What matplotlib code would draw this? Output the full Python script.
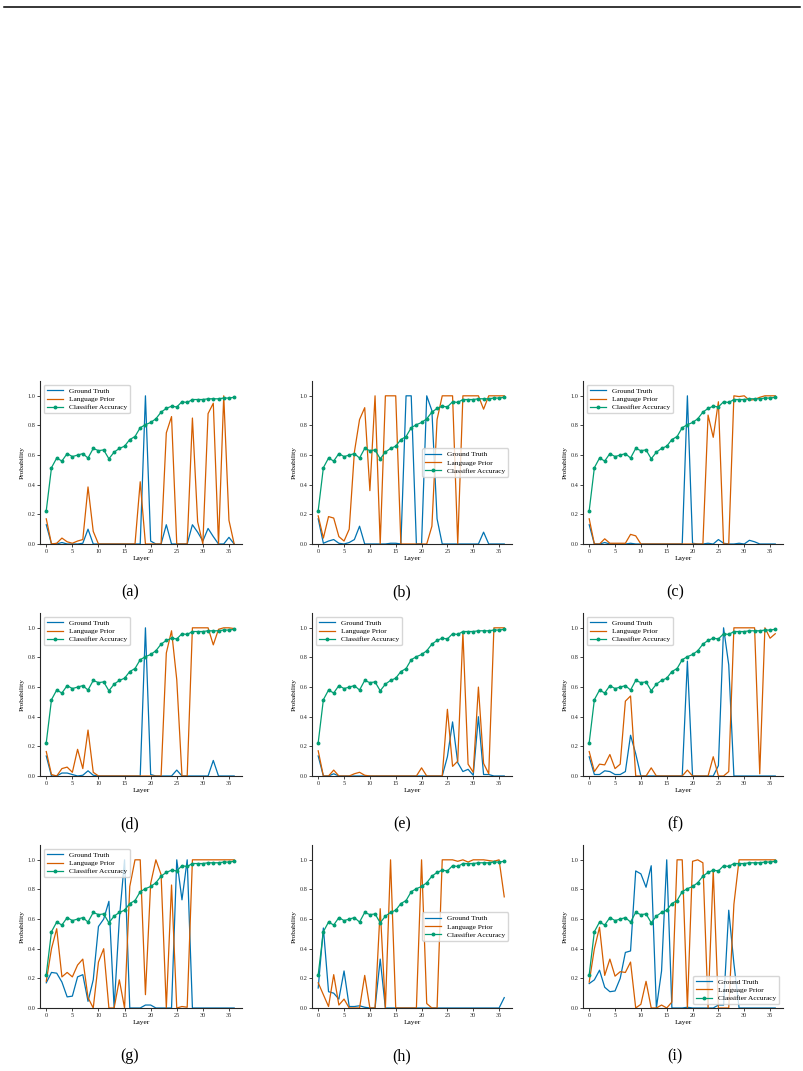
import matplotlib
matplotlib.use("Agg")
import matplotlib.pyplot as plt
from matplotlib.lines import Line2D

# ---- data ----
layers = list(range(37))

classifier_acc = [0.225, 0.515, 0.58, 0.56, 0.61, 0.59, 0.60, 0.61, 0.58, 0.645,
                  0.63, 0.635, 0.575, 0.62, 0.645, 0.66, 0.705, 0.725, 0.785, 0.805,
                  0.82, 0.845, 0.89, 0.915, 0.93, 0.925, 0.96, 0.955, 0.975, 0.975,
                  0.975, 0.98, 0.98, 0.98, 0.985, 0.985, 0.99]

gt_a = [0.13, 0.0, 0.0, 0.01, 0.0, 0.0, 0.0, 0.005, 0.1, 0.0,
        0, 0, 0, 0, 0, 0, 0, 0, 0.0, 1.0,
        0.02, 0.0, 0.0, 0.13, 0.0, 0, 0, 0, 0.13, 0.08,
        0.02, 0.105, 0.05, 0.0, 0.0, 0.045, 0.0]
lp_a = [0.17, 0.0, 0.005, 0.04, 0.015, 0.005, 0.02, 0.03, 0.385, 0.085,
        0, 0, 0, 0, 0, 0, 0, 0, 0.42, 0.0,
        0, 0, 0, 0.75, 0.86, 0, 0, 0, 0.85, 0.15,
        0.0, 0.88, 0.95, 0.0, 1.0, 0.16, 0.0]

gt_b = [0.17, 0.005, 0.02, 0.03, 0.005, 0.0, 0.01, 0.03, 0.12, 0.0,
        0, 0, 0, 0, 0.005, 0.005, 0, 1.0, 1.0, 0.0,
        0.0, 1.0, 0.9, 0.17, 0.0, 0, 0, 0, 0, 0,
        0, 0, 0.08, 0, 0, 0, 0]
lp_b = [0.19, 0.04, 0.185, 0.175, 0.05, 0.02, 0.1, 0.62, 0.84, 0.92,
        0.36, 1.0, 0.0, 1.0, 1.0, 1.0, 0.0, 0, 0, 0,
        0, 0, 0.12, 0.84, 1.0, 1.0, 1.0, 0.0, 1.0, 1.0,
        1.0, 1.0, 0.91, 1.0, 1.0, 1.0, 1.0]

gt_c = [0.13, 0, 0, 0.01, 0, 0, 0, 0, 0.005, 0,
        0, 0, 0, 0, 0, 0, 0, 0, 0, 1.0,
        0.005, 0, 0, 0.005, 0, 0.03, 0.005, 0, 0, 0.005,
        0, 0.025, 0.015, 0, 0, 0, 0]
lp_c = [0.17, 0.0, 0.0, 0.035, 0.005, 0.005, 0.005, 0.005, 0.065, 0.055,
        0, 0, 0, 0, 0, 0, 0, 0, 0, 0,
        0, 0, 0, 0.87, 0.72, 0.96, 0.0, 0.0, 1.0, 0.995,
        1.0, 0.97, 0.975, 0.99, 1.0, 1.0, 1.0]

gt_d = [0.135, 0, 0, 0.02, 0.02, 0.01, 0, 0.005, 0.035, 0.005,
        0, 0, 0, 0, 0, 0, 0, 0, 0, 1.0,
        0.01, 0, 0, 0, 0, 0.04, 0, 0, 0, 0,
        0, 0, 0.105, 0, 0, 0, 0]
lp_d = [0.165, 0.01, 0.0, 0.05, 0.06, 0.025, 0.18, 0.05, 0.31, 0.025,
        0, 0, 0, 0, 0, 0, 0, 0, 0, 0,
        0, 0, 0, 0.83, 0.98, 0.65, 0, 0, 1.0, 1.0,
        1.0, 1.0, 0.885, 0.99, 1.0, 1.0, 0.995]

gt_e = [0.135, 0, 0, 0.015, 0, 0, 0, 0, 0, 0,
        0, 0, 0, 0, 0, 0, 0, 0, 0, 0,
        0, 0, 0, 0, 0, 0.13, 0.365, 0.09, 0.03, 0.045,
        0.005, 0.4, 0.01, 0.01, 0, 0, 0]
lp_e = [0.17, 0, 0, 0.04, 0, 0, 0, 0.015, 0.025, 0.005,
        0, 0, 0, 0, 0, 0, 0, 0, 0, 0,
        0.055, 0, 0, 0, 0, 0.45, 0.065, 0.1, 0.97, 0.08,
        0.025, 0.6, 0.085, 0.015, 1.0, 1.0, 1.0]

gt_f = [0.13, 0.01, 0.01, 0.035, 0.03, 0.01, 0.01, 0.03, 0.275, 0.15,
        0, 0, 0, 0, 0, 0, 0, 0, 0, 0.775,
        0, 0, 0, 0, 0, 0.07, 1.0, 0.75, 0, 0,
        0, 0, 0, 0, 0, 0, 0]
lp_f = [0.165, 0.03, 0.08, 0.075, 0.145, 0.05, 0.08, 0.505, 0.54, 0.0,
        0, 0, 0.055, 0, 0, 0, 0, 0, 0, 0.04,
        0, 0, 0, 0, 0.13, 0, 0, 0.03, 1.0, 1.0,
        1.0, 1.0, 1.0, 0.015, 1.0, 0.93, 0.96]

gt_g = [0.17, 0.24, 0.235, 0.175, 0.075, 0.08, 0.21, 0.225, 0.045, 0.19,
        0.55, 0.6, 0.72, 0.0, 0.6, 1.0, 0, 0, 0, 0.02,
        0.02, 0, 0, 0, 0, 1.0, 0.73, 1.0, 0, 0,
        0, 0, 0, 0, 0, 0, 0]
lp_g = [0.18, 0.4, 0.535, 0.21, 0.24, 0.21, 0.29, 0.33, 0.07, 0.0,
        0.31, 0.4, 0.0, 0.0, 0.19, 0.0, 0.82, 1.0, 1.0, 0.09,
        0.84, 1.0, 0.9, 0.0, 0.83, 0.0, 0.01, 0.005, 1.0, 1.0,
        1.0, 1.0, 1.0, 1.0, 1.0, 1.0, 1.0]

gt_h = [0.135, 0.54, 0.11, 0.1, 0.06, 0.25, 0.01, 0.01, 0.015, 0.005,
        0, 0, 0.33, 0, 0, 0, 0, 0, 0, 0,
        0, 0, 0, 0, 0, 0, 0, 0, 0, 0,
        0, 0, 0, 0, 0, 0, 0.07]
lp_h = [0.17, 0.09, 0.01, 0.225, 0.02, 0.06, 0.0, 0.0, 0.0, 0.22,
        0.0, 0.0, 0.67, 0.0, 1.0, 0.0, 0, 0, 0, 0,
        1.0, 0.03, 0.0, 0.0, 1.0, 1.0, 1.0, 0.99, 1.0, 0.985,
        1.0, 1.0, 1.0, 0.995, 0.99, 1.0, 0.75]

gt_i = [0.165, 0.19, 0.255, 0.14, 0.11, 0.115, 0.2, 0.375, 0.385, 0.925,
        0.905, 0.815, 0.96, 0.0, 0.25, 1.0, 0, 0, 0, 0.005,
        0, 0, 0, 0, 0, 0.02, 0.02, 0.66, 0.3, 0,
        0, 0, 0, 0, 0, 0, 0]
lp_i = [0.175, 0.4, 0.545, 0.22, 0.33, 0.215, 0.245, 0.24, 0.31, 0.0,
        0.025, 0.18, 0.0, 0.0, 0.02, 0.0, 0.04, 1.0, 1.0, 0.0,
        0.99, 1.0, 0.98, 0.0, 0.93, 0.0, 0.0, 0.0, 0.7, 1.0,
        1.0, 1.0, 1.0, 1.0, 1.0, 1.0, 1.0]

panel_labels = ["(a)", "(b)", "(c)", "(d)", "(e)", "(f)", "(g)", "(h)", "(i)"]
ground_truth = [gt_a, gt_b, gt_c, gt_d, gt_e, gt_f, gt_g, gt_h, gt_i]
language_prior = [lp_a, lp_b, lp_c, lp_d, lp_e, lp_f, lp_g, lp_h, lp_i]
legend_locs = ["upper left", "center right", "upper left",
               "upper left", "upper left", "upper left",
               "upper left", "center right", "lower right"]

# colour-blind palette
C_GT = "#0173B2"
C_LP = "#D55E00"
C_ACC = "#029E73"

plt.rcParams["font.family"] = ["Liberation Serif", "DejaVu Serif"]
plt.rcParams["axes.edgecolor"] = ".15"
plt.rcParams["xtick.color"] = ".15"
plt.rcParams["ytick.color"] = ".15"

W, H = 804, 1071
fig = plt.figure(figsize=(W / 100, H / 100), dpi=100)

col_left = [40, 312, 583]
col_width = [202, 200, 200]
row_bottom = [544, 776, 1008]
ax_h = 163
cap_x = [130, 402, 675]
cap_y = [592, 824, 1056]

for k in range(9):
    r, c = divmod(k, 3)
    rect = [col_left[c] / W, 1 - row_bottom[r] / H, col_width[c] / W, ax_h / H]
    ax = fig.add_axes(rect)
    ax.plot(layers, ground_truth[k], color=C_GT, lw=0.9, label="Ground Truth")
    ax.plot(layers, language_prior[k], color=C_LP, lw=0.9, label="Language Prior")
    ax.plot(layers, classifier_acc, color=C_ACC, lw=0.9, marker="o", ms=1.8,
            label="Classifier Accuracy")
    ax.set_xlim(-1.2, 37.5)
    ax.set_ylim(0, 1.1)
    ax.set_xticks([0, 5, 10, 15, 20, 25, 30, 35])
    ax.set_yticks([0.0, 0.2, 0.4, 0.6, 0.8, 1.0])
    ax.tick_params(labelsize=4.5, length=2, width=0.6, pad=1.5)
    ax.set_xlabel("Layer", fontsize=5.3, labelpad=1.5)
    ax.set_ylabel("Probability", fontsize=5.3, labelpad=2)
    for side in ["top", "right"]:
        ax.spines[side].set_visible(False)
    for side in ["left", "bottom"]:
        ax.spines[side].set_linewidth(0.8)
    ax.legend(loc=legend_locs[k], fontsize=5.3, handlelength=2.2,
              borderpad=0.4, labelspacing=0.3)
    fig.text(cap_x[c] / W, 1 - cap_y[r] / H, panel_labels[k],
             ha="center", va="center", fontsize=11.5)

# rule at the top of the page
fig.add_artist(Line2D([4 / W, 800 / W], [1 - 7 / H, 1 - 7 / H],
                      color="black", lw=1.1, transform=fig.transFigure))

fig.savefig("out.png", dpi=100)
